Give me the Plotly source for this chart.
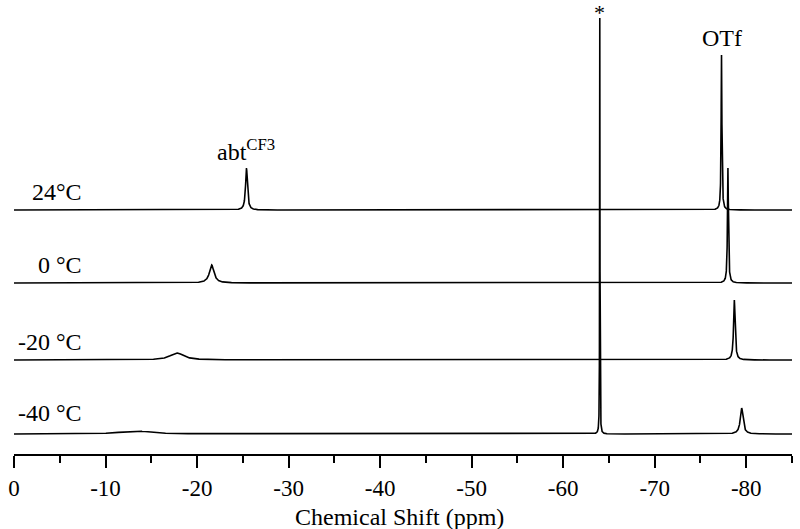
import numpy as np
import plotly.graph_objects as go

# Data: temperatures and peak parameters
temperatures = ["24°C", "0 °C", "-20 °C", "-40 °C"]
abt_shift = [-25.4, -21.6, -17.8, -13.3]      # ppm
abt_height = [42, 18, 7, 3]
abt_width = [0.12, 0.3, 0.9, 2.0]            # HWHM ppm
otf_shift = [-77.3, -78.0, -78.7, -79.5]
otf_height = [155, 115, 60, 26]
otf_width = [0.05, 0.06, 0.1, 0.18]
ref_shift = -64.0
ref_height = [0, 0, 0, 416]
ref_width = 0.02

x_ticks = [0, -10, -20, -30, -40, -50, -60, -70, -80]
tick_text = ["0", "-10", "-20", "-30", "-40", "-50", "-60", "-70", "-80"]

# Styling / stacking offsets
offsets = [244, 171, 94, 20]
label_y = [262, 189, 112, 41]

x = np.linspace(0, -85, 17001)


def lor(x0, h, w):
    return h * w**2 / ((x - x0) ** 2 + w**2)


fig = go.Figure()
for i, t in enumerate(temperatures):
    y = (offsets[i]
         + lor(abt_shift[i], abt_height[i], abt_width[i])
         + lor(otf_shift[i], otf_height[i], otf_width[i])
         + lor(ref_shift, ref_height[i], ref_width))
    fig.add_trace(go.Scatter(x=x, y=y, mode="lines",
                             line=dict(color="black", width=1.6),
                             showlegend=False, hoverinfo="skip"))
    fig.add_annotation(x=-7.6, y=label_y[i], text=t, showarrow=False,
                       xanchor="right", yanchor="middle",
                       font=dict(size=24))

fig.add_annotation(x=ref_shift, y=442, text="*", showarrow=False,
                   font=dict(size=22), yanchor="middle")
fig.add_annotation(x=otf_shift[0], y=416, text="OTf", showarrow=False,
                   font=dict(size=24), yanchor="middle")
fig.add_annotation(x=abt_shift[0], y=304, text="abt<sup>CF3</sup>",
                   showarrow=False, font=dict(size=24), yanchor="middle")
fig.add_annotation(xref="paper", yref="paper", x=0.495, y=-63 / 454,
                   text="Chemical Shift (ppm)", showarrow=False,
                   font=dict(size=24), yanchor="middle")

fig.update_layout(
    width=800, height=529,
    margin=dict(l=14, r=8, t=0, b=75),
    plot_bgcolor="white", paper_bgcolor="white",
    font=dict(family="Liberation Serif, Times New Roman, serif",
              color="black", size=23),
    xaxis=dict(range=[0, -85], tickvals=x_ticks, ticktext=tick_text,
               automargin=False,
               showgrid=False, zeroline=False, showline=True,
               linecolor="black", linewidth=2, ticks="outside",
               ticklen=12, tickwidth=2, tickcolor="black",
               tickfont=dict(size=23),
               minor=dict(dtick=5, ticks="outside", ticklen=7,
                          tickwidth=2, tickcolor="black", showgrid=False)),
    yaxis=dict(range=[0, 454], visible=False, showgrid=False,
               zeroline=False, automargin=False),
)

fig.write_html("out.html", config={"displayModeBar": False},
               post_script="document.body.style.margin='0';")
